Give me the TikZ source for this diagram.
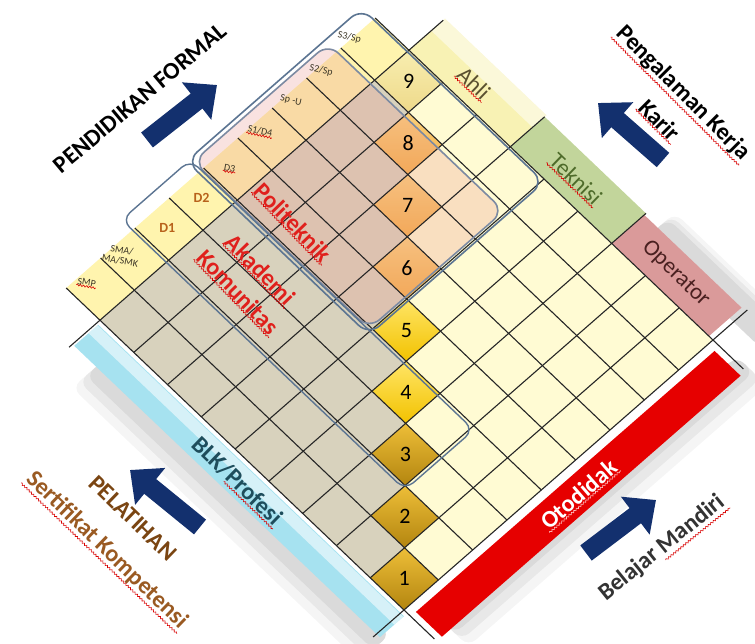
\documentclass[tikz,border=0pt]{standalone}
\usepackage{fontspec}
\setmainfont{Carlito}
\usetikzlibrary{arrows.meta,decorations.pathmorphing,calc}
\definecolor{cream}{HTML}{FFFBD3}
\definecolor{graycell}{HTML}{D8D2BD}
\definecolor{labelyel}{HTML}{FFF4AE}
\definecolor{navy}{HTML}{13306E}
\definecolor{steel}{HTML}{5C7592}
\definecolor{steelB}{HTML}{7C8AA2}
\definecolor{polpink}{HTML}{EC9A90}
\definecolor{blkcyan}{HTML}{A6E2F0}
\definecolor{otored}{HTML}{E60000}
\definecolor{ahliyel}{HTML}{F8F2B4}
\definecolor{tekgreen}{HTML}{C2D59B}
\definecolor{oppink}{HTML}{DA9A9A}
\definecolor{brownA}{HTML}{7A4512}
\definecolor{brownB}{HTML}{9A5A22}
\definecolor{redtxt}{HTML}{E0201C}
\definecolor{labtxt}{HTML}{3B3526}
\definecolor{dtxt}{HTML}{B8621B}
\definecolor{blktxt}{HTML}{1E4D5C}
\definecolor{ahlitxt}{HTML}{5A5030}
\definecolor{tektxt}{HTML}{4E6B2A}
\definecolor{optxt}{HTML}{4A2020}
\definecolor{bmtxt}{HTML}{333333}
\definecolor{c1t}{HTML}{EDBE38}
\definecolor{c1b}{HTML}{B3850F}
\definecolor{c4t}{HTML}{FFE566}
\definecolor{c4b}{HTML}{F2C200}
\definecolor{c6t}{HTML}{FBD07A}
\definecolor{c6b}{HTML}{F5AE45}
\definecolor{c9t}{HTML}{F8EEB0}
\definecolor{c9b}{HTML}{EED98A}
\begin{document}
\begin{tikzpicture}[x=1pt,y=1pt,
  squig/.style={draw=red!85!black, line width=0.6pt, decorate, decoration={snake, amplitude=0.9pt, segment length=3.2pt}},
  bigtxt/.style={font=\fontsize{24}{27}\selectfont\bfseries, inner sep=1pt},
  bandtxt/.style={font=\fontsize{23}{25}\selectfont, inner sep=1pt},
  labstyle/.style={font=\fontsize{10}{10.5}\selectfont, text=labtxt, inner sep=0.5pt, align=center},
  dstyle/.style={font=\fontsize{14}{15}\selectfont\bfseries, text=dtxt, inner sep=0.5pt},
  numtxt/.style={font=\fontsize{22}{24}\selectfont, inner sep=0pt},
  blockarrow/.style={draw=navy, line width=19pt, -{Triangle[length=26pt,width=46pt]}},
  gridline/.style={line width=1.1pt, draw=black!85},
  ]
\useasboundingbox (0,0) rectangle (755,643);
\fill[white] (0,0) rectangle (755,643);

\begin{scope}[shift={(404pt,33pt)}, x={(34.33pt,30pt)}, y={(-33.78pt,32.2pt)}]
  % soft shadows
  \foreach \w/\op in {1.5/0.04,1.3/0.05,1.1/0.06}{
    \fill[black,opacity=\op,rounded corners=10pt] (-\w,-0.2) -- (-0.6,-0.2) -- (-0.6,8.3) -- (-\w,8.3) -- cycle;
    \fill[black,opacity=\op,rounded corners=10pt] (0.4,-\w) -- (9.1,-\w) -- (9.1,-0.6) -- (0.4,-0.6) -- cycle;
    \fill[black,opacity=\op,rounded corners=10pt] (9.6,-0.8) -- (9.7+\w/2,-0.8) -- (9.7+\w/2,2.6) -- (9.6,2.6) -- cycle;
  }
  % bands
  \fill[blkcyan] (-0.8,-0.1) -- (-0.1,-0.1) -- (-0.1,8.95) -- (-0.8,8.95) -- cycle;
  \fill[white,opacity=0.55] (-0.38,-0.1) -- (-0.12,-0.1) -- (-0.12,8.95) -- (-0.38,8.95) -- cycle;
  \fill[otored] (0.15,-0.97) -- (8.85,-0.97) -- (8.85,-0.2) -- (0.15,-0.2) -- cycle;
  \fill[oppink] (9,0.12) -- (9.95,0.12) -- (9.95,3) -- (9,3) -- cycle;
  \fill[tekgreen] (9,3) -- (10,3) -- (10,6) -- (9,6) -- cycle;
  \fill[ahliyel] (9,6) -- (10.05,6) -- (10.05,9) -- (9,9) -- cycle;
  \fill[white,opacity=0.5] (9.65,6) -- (10.05,6) -- (10.05,9) -- (9.65,9) -- cycle;
  % grid cells
  \foreach \i in {0,...,8}{
    \foreach \j in {0,...,8}{
      \ifnum\j>\i \def\cc{graycell}\else \def\cc{cream}\fi
      \fill[\cc] (\i,\j) -- ++(1,0) -- ++(0,1) -- ++(-1,0) -- cycle;
    }
    \fill[labelyel] (\i,9) -- ++(1,0) -- ++(0,1) -- ++(-1,0) -- cycle;
  }
  \foreach \k/\t/\b in {0/c1t/c1b,1/c1t/c1b,2/c1t/c1b,3/c4t/c4b,4/c4t/c4b,5/c6t/c6b,6/c6t/c6b,7/c6t/c6b,8/c9t/c9b}{
    \shade[top color=\t, bottom color=\b] (\k,\k) -- ++(1,0) -- ++(0,1) -- ++(-1,0) -- cycle;
  }
  % pink Politeknik region
  \fill[polpink,opacity=0.28,rounded corners=14pt] (3.95,5.05) -- (7.88,5.05) -- (7.88,10.25) -- (3.95,10.25) -- cycle;
  % grid lines
  \foreach \k in {0,...,9}{
    \draw[gridline] (\k,0) -- (\k,9);
    \draw[gridline] (0,\k) -- (9,\k);
  }
  \draw[gridline] (0,-0.9) -- (0,0) (0,9) -- (0,10) (9,-0.9) -- (9,0) (9,9) -- (9,10);
  \draw[gridline] (-0.9,0) -- (0,0) (9,0) -- (10,0) (-0.9,9) -- (0,9) (9,9) -- (10,9);
  \draw[gridline] (9,3) -- (10,3) (9,6) -- (10,6);
  \foreach \k in {1,...,8}{ \draw[gridline] (\k,9) -- (\k,10); }
  % rounded outlines
  \draw[steelB,line width=1.6pt,rounded corners=14pt] (3.95,5.05) -- (7.88,5.05) -- (7.88,10.25) -- (3.95,10.25) -- cycle;
  \draw[steel,line width=1.6pt,rounded corners=14pt] (3.85,4.95) -- (8.95,4.95) -- (8.95,10.35) -- (3.85,10.35) -- cycle;
  \draw[steel,line width=1.4pt,rounded corners=11pt] (1.93,1.93) -- (3.93,1.93) -- (3.93,10.32) -- (1.93,10.32) -- cycle;
  % level numbers
  \foreach \k [evaluate=\k as \lv using int(\k+1)] in {0,...,8}{
    \node[numtxt] (num\lv) at (\k+0.5,\k+0.5) {\lv};
  }
  % education labels
  \node[labstyle, rotate=-10] (labSMP) at (0.4,9.8) {SMP};
  \node[labstyle, rotate=-10] (labSMA) at (1.35,9.75) {SMA/\\MA/SMK};
  \node[dstyle] (labD1) at (2.5,9.55) {D1};
  \node[dstyle] (labD2) at (3.5,9.55) {D2};
  \node[labstyle, rotate=-10] (labD3) at (4.4,9.63) {D3};
  \node[labstyle, rotate=-12] (labS1) at (5.45,9.8) {S1/D4};
  \node[labstyle, rotate=-12] (labSpU) at (6.4,9.85) {Sp -U};
  \node[labstyle, rotate=-12] (labS2) at (7.35,9.92) {S2/Sp};
  \node[labstyle, rotate=-12] (labS3) at (8.3,10.05) {S3/Sp};
  \draw[squig] (labSMP.south west) -- (labSMP.south east);
  \draw[squig] (labD3.south west) -- (labD3.south east);
  \draw[squig] (labS1.south west) -- (labS1.south east);
  % institution texts
  \node[bigtxt, text=redtxt, rotate=-46] (poli) at (4.5,7.85) {Politeknik};
  \node[bigtxt, text=redtxt, rotate=-46] (akad) at (3.25,7.55) {Akademi};
  \node[bigtxt, text=redtxt, rotate=-46] (komu) at (2.55,7.5) {Komunitas};
  \draw[squig] (poli.south west) -- (poli.south east);
  \draw[squig] (akad.south west) -- (akad.south east);
  \draw[squig] (komu.south west) -- (komu.south east);
  % band texts
  \node[bandtxt, text=ahlitxt, rotate=-44] (ahli) at (9.47,7.55) {Ahli};
  \node[bandtxt, text=tektxt, rotate=-44] (tek) at (9.49,4.55) {Teknisi};
  \node[bandtxt, text=optxt, rotate=-44] (op) at (9.49,1.6) {Operator};
  \draw[squig] (ahli.south west) -- (ahli.south east);
  \draw[squig] (tek.south west) -- (tek.south east);
  \node[bigtxt, text=blktxt, rotate=-44] (blk) at (-0.47,4.45) {BLK/Profesi};
  \draw[squig] ($(blk.south west)!0.42!(blk.south east)$) -- (blk.south east);
  \node[bigtxt, text=white, rotate=41] (oto) at (4.5,-0.6) {Otodidak};
  \draw[squig, draw=pink] (oto.south west) -- (oto.south east);
\end{scope}

% outer texts
\node[bigtxt, rotate=40] (pf) at (140,545) {PENDIDIKAN FORMAL};
\node[bigtxt, rotate=-45] (pk1) at (683,550) {Pengalaman Kerja};
\node[bigtxt, rotate=-45] (pk2) at (660,523) {Karir};
\draw[squig] (pk1.south west) -- (pk1.south east);
\draw[squig] (pk2.south west) -- (pk2.south east);
\node[bigtxt, text=brownA, rotate=-44] (pel1) at (133,125) {PELATIHAN};
\node[bigtxt, text=brownB, rotate=-44] (pel2) at (107,93) {Sertifikat Kompetensi};
\draw[squig] (pel2.south west) -- (pel2.south east);
\node[bigtxt, text=bmtxt, rotate=39] (bm) at (662,95) {Belajar Mandiri};
\draw[squig] ($(bm.south west)!0.47!(bm.south east)$) -- (bm.south east);

% block arrows
\coordinate (pfA) at (147,503); \coordinate (pfB) at (217,558);
\coordinate (pkA) at (663,483); \coordinate (pkB) at (598,540);
\coordinate (pelA) at (200,116); \coordinate (pelB) at (130,173);
\coordinate (bmA) at (586,90); \coordinate (bmB) at (656,143);
\draw[blockarrow] (pfA) -- (pfB);
\draw[blockarrow] (pkA) -- (pkB);
\draw[blockarrow] (pelA) -- (pelB);
\draw[blockarrow] (bmA) -- (bmB);
\end{tikzpicture}
\end{document}
